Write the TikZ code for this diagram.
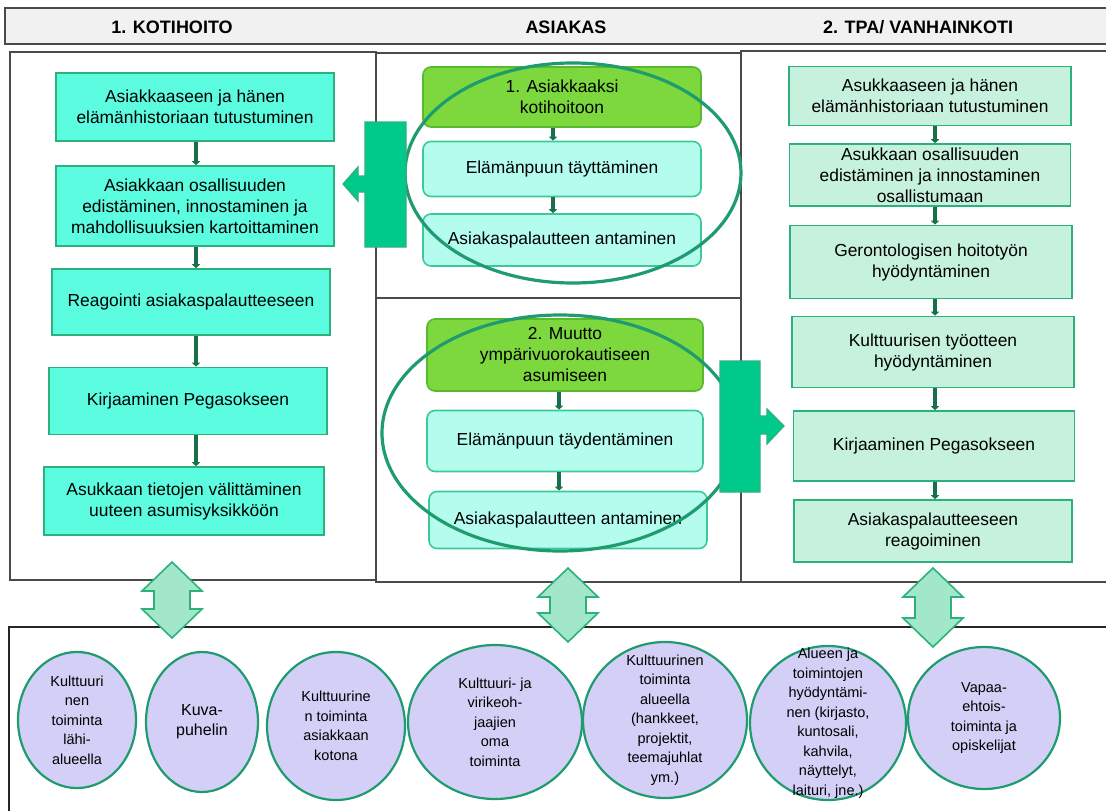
\documentclass[tikz,border=0pt]{standalone}
\usepackage{fontspec}
\setmainfont{Liberation Sans}
\usepackage{tikz}
\usetikzlibrary{shapes.geometric}
\usetikzlibrary{arrows.meta}

\definecolor{otsikkotausta}{HTML}{F1F1F1}
\definecolor{reuna}{HTML}{4A4A4A}
\definecolor{turkoosi}{HTML}{5CFCE0}
\definecolor{vihrea}{HTML}{2DB17C}
\definecolor{tumma}{HTML}{17704A}
\definecolor{lehti}{HTML}{7DD83E}
\definecolor{lehtireuna}{HTML}{58B92E}
\definecolor{vaalea}{HTML}{B4FCEE}
\definecolor{vaaleareuna}{HTML}{3CC99A}
\definecolor{minttu}{HTML}{C6F1DD}
\definecolor{kehys}{HTML}{1E9C70}
\definecolor{lohko}{HTML}{00C98C}
\definecolor{kaksoi}{HTML}{A2E7CA}
\definecolor{laventeli}{HTML}{D3CFF6}

\tikzset{
    otsikko/.style={font=\fontsize{18}{21}\selectfont\bfseries},
    paneeli/.style={draw=reuna, line width=1.2pt},
    laatikko/.style={rectangle, draw=vihrea, line width=1.6pt, align=center,
        inner sep=0pt, font=\fontsize{17.4}{21}\selectfont},
    koti/.style={laatikko, fill=turkoosi},
    asiakas/.style={laatikko, fill=vaalea, draw=vaaleareuna, rounded corners=8pt},
    vaihe/.style={asiakas, fill=lehti, draw=lehtireuna},
    tpa/.style={laatikko, fill=minttu},
    yhteys/.style={draw=tumma, line width=3.5pt, -{Triangle[length=4pt,width=8pt]}},
    kaari/.style={draw=kehys, line width=3.2pt},
    lohkonuoli/.style={fill=lohko, draw=vihrea, line width=1.2pt},
    kaksoisnuoli/.style={fill=kaksoi, draw=vihrea, line width=1.6pt},
    ympyra/.style={ellipse, draw=kehys, fill=laventeli, line width=2.2pt, inner sep=0pt},
    ympyrateksti/.style={align=center, inner sep=0pt, font=\fontsize{14.5}{19.5}\selectfont},
}

\begin{document}
\begin{tikzpicture}[x=1pt,y=-1pt]
    \clip (0,0) rectangle (1106,811);
    \fill[white] (0,0) rectangle (1106,811);

    % otsikkopalkki ja paneelit
    \draw[paneeli, fill=otsikkotausta] (5,8) rectangle (1112,44);
    \node[otsikko] (h1) at (172,27) {1. KOTIHOITO};
    \node[otsikko] (h2) at (566,27) {ASIAKAS};
    \node[otsikko] (h3) at (918,27) {2. TPA/ VANHAINKOTI};
    \draw[paneeli] (10,52) rectangle (376,580);
    \draw[paneeli] (376,53) rectangle (741,298);
    \draw[paneeli] (376,298) rectangle (741,582);
    \draw[paneeli] (741,51) rectangle (1112,582);
    \draw[draw=black!85, line width=2pt] (9,627) rectangle (1112,830);

    % kotihoito
    \node[koti, minimum width=278, minimum height=68] (k1) at (195,107)
        {Asiakkaaseen ja hänen\\elämänhistoriaan tutustuminen};
    \node[koti, minimum width=278, minimum height=80] (k2) at (195,206)
        {Asiakkaan osallisuuden\\edistäminen, innostaminen ja\\mahdollisuuksien kartoittaminen};
    \node[koti, minimum width=278, minimum height=66] (k3) at (191,302)
        {Reagointi asiakaspalautteeseen};
    \node[koti, minimum width=278, minimum height=67] (k4) at (188,401)
        {Kirjaaminen Pegasokseen};
    \node[koti, minimum width=280, minimum height=68] (k5) at (184,501)
        {Asukkaan tietojen välittäminen\\uuteen asumisyksikköön};
    \coordinate (kx) at (196,0);
    \foreach \a/\b in {k1/k2,k2/k3,k3/k4,k4/k5}
        \draw[yhteys] (\a.south -| kx) -- (\b.north -| kx);

    % asiakas
    \node[vaihe, minimum width=278, minimum height=60] (a1) at (562,97)
        {1. Asiakkaaksi\\kotihoitoon};
    \node[asiakas, minimum width=278, minimum height=55] (a2) at (562,169)
        {Elämänpuun täyttäminen};
    \node[asiakas, minimum width=278, minimum height=52] (a3) at (562,240)
        {Asiakaspalautteen antaminen};
    \node[vaihe, minimum width=276, minimum height=72] (a4) at (565,355)
        {2. Muutto\\ympärivuorokautiseen\\asumiseen};
    \node[asiakas, minimum width=276, minimum height=61] (a5) at (565,441)
        {Elämänpuun täydentäminen};
    \node[asiakas, minimum width=278, minimum height=57] (a6) at (568,520)
        {Asiakaspalautteen antaminen};
    \coordinate (ax1) at (553,0);
    \coordinate (ax2) at (559,0);
    \draw[yhteys] (a1.south -| ax1) -- (a2.north -| ax1);
    \draw[yhteys] (a2.south -| ax1) -- (a3.north -| ax1);
    \draw[yhteys] (a4.south -| ax2) -- (a5.north -| ax2);
    \draw[yhteys] (a5.south -| ax2) -- (a6.north -| ax2);
    \draw[kaari] (573,173) ellipse [x radius=168pt, y radius=110pt];
    \draw[kaari] (560,433) ellipse [x radius=178pt, y radius=118pt];

    % siirtymät
    \draw[lohkonuoli] (406,122) -- (365,122) -- (365,176) -- (358,176) -- (358,167)
        -- (343,184) -- (358,201) -- (358,192) -- (365,192) -- (365,247) -- (406,247) -- cycle;
    \draw[lohkonuoli] (720,361) -- (760,361) -- (760,416) -- (767,416) -- (767,409)
        -- (784,426) -- (767,444) -- (767,434) -- (760,434) -- (760,492) -- (720,492) -- cycle;

    % tpa / vanhainkoti
    \node[tpa, minimum width=282, minimum height=59] (t1) at (930,96)
        {Asukkaaseen ja hänen\\elämänhistoriaan tutustuminen};
    \node[tpa, minimum width=281, minimum height=62] (t2) at (930,175)
        {Asukkaan osallisuuden\\edistäminen ja innostaminen\\osallistumaan};
    \node[tpa, minimum width=282, minimum height=73] (t3) at (931,262)
        {Gerontologisen hoitotyön\\hyödyntäminen};
    \node[tpa, minimum width=282, minimum height=71] (t4) at (933,352)
        {Kulttuurisen työotteen\\hyödyntäminen};
    \node[tpa, minimum width=281, minimum height=70] (t5) at (934,446)
        {Kirjaaminen Pegasokseen};
    \node[tpa, minimum width=278, minimum height=62] (t6) at (933,531)
        {Asiakaspalautteeseen\\reagoiminen};
    \coordinate (tx) at (935,0);
    \foreach \a/\b in {t1/t2,t2/t3,t3/t4,t4/t5,t5/t6}
        \draw[yhteys] (\a.south -| tx) -- (\b.north -| tx);

    % kaksisuuntaiset nuolet
    \foreach \x/\ya/\yb in {172/562/638, 568/568/642, 933/568/647}
        \draw[kaksoisnuoli] (\x,\ya) -- (\x+30,\ya+29) -- (\x+18,\ya+29) -- (\x+18,\yb-29)
            -- (\x+30,\yb-29) -- (\x,\yb) -- (\x-30,\yb-29) -- (\x-18,\yb-29)
            -- (\x-18,\ya+29) -- (\x-30,\ya+29) -- cycle;

    % toimintamuodot
    \node[ympyra, minimum width=118, minimum height=136] (c1) at (77,720) {};
    \node[ympyrateksti] (c1t) at (c1) {Kulttuuri\\nen\\toiminta\\lähi-\\alueella};
    \node[ympyra, minimum width=112, minimum height=140] (c2) at (202,722) {};
    \node[ympyrateksti, font=\fontsize{16}{20}\selectfont] (c2t) at (c2) {Kuva-\\puhelin};
    \node[ympyra, minimum width=138, minimum height=148] (c3) at (336,726) {};
    \node[ympyrateksti] (c3t) at (c3) {Kulttuurine\\n toiminta\\asiakkaan\\kotona};
    \node[ympyra, minimum width=174, minimum height=154] (c4) at (495,722) {};
    \node[ympyrateksti] (c4t) at (c4) {Kulttuuri- ja\\virikeoh-\\jaajien\\oma\\toiminta};
    \node[ympyra, minimum width=164, minimum height=156] (c5) at (665,720) {};
    \node[ympyrateksti] (c5t) at (c5)
        {Kulttuurinen\\toiminta\\alueella\\(hankkeet,\\projektit,\\teemajuhlat\\ym.)};
    \node[ympyra, minimum width=156, minimum height=154] (c6) at (828,723) {};
    \node[ympyrateksti] (c6t) at (c6)
        {Alueen ja\\toimintojen\\hyödyntämi-\\nen (kirjasto,\\kuntosali,\\kahvila,\\näyttelyt,\\laituri, jne.)};
    \node[ympyra, minimum width=152, minimum height=142] (c7) at (984,718) {};
    \node[ympyrateksti] (c7t) at (c7) {Vapaa-\\ehtois-\\toiminta ja\\opiskelijat};
\end{tikzpicture}
\end{document}
